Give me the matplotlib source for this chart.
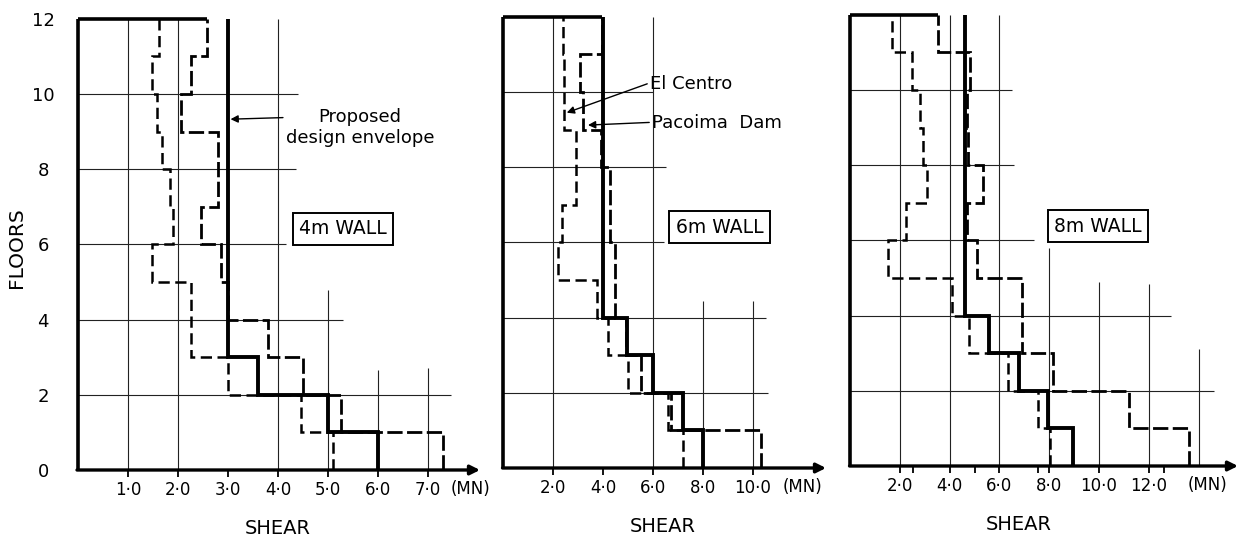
import numpy as np
import matplotlib
matplotlib.use('Agg')
import matplotlib.pyplot as plt

# Storey shears (MN) for storeys 1..12, read bottom to top
floors = np.arange(0, 13)

env_4m = [6.0, 5.0, 3.6, 3.0, 3.0, 3.0, 3.0, 3.0, 3.0, 3.0, 3.0, 3.0]
pacoima_4m = [7.3, 5.25, 4.5, 3.8, 3.0, 2.85, 2.45, 2.8, 2.8, 2.05, 2.25, 2.58]
elcentro_4m = [5.1, 4.45, 3.0, 2.26, 2.26, 1.47, 1.9, 1.84, 1.67, 1.58, 1.47, 1.62]

env_6m = [8.0, 7.2, 6.0, 4.95, 4.0, 4.0, 4.0, 4.0, 4.0, 4.0, 4.0, 4.0]
pacoima_6m = [10.3, 6.7, 5.5, 4.9, 4.48, 4.48, 4.28, 4.28, 3.9, 3.2, 3.08, 3.95]
elcentro_6m = [7.2, 6.6, 5.0, 4.2, 3.75, 2.2, 2.36, 2.9, 2.9, 2.45, 2.45, 2.4]

env_8m = [8.95, 7.95, 6.8, 5.6, 4.6, 4.6, 4.6, 4.6, 4.6, 4.6, 4.6, 4.6]
pacoima_8m = [13.6, 11.2, 8.14, 6.9, 6.9, 5.1, 4.7, 5.35, 4.75, 4.7, 4.8, 3.55]
elcentro_8m = [8.03, 7.56, 6.36, 4.79, 4.08, 1.54, 2.25, 3.08, 2.95, 2.81, 2.48, 1.67]

ticks_4m = [1, 2, 3, 4, 5, 6, 7]
ticklabels_4m = ['1·0', '2·0', '3·0', '4·0', '5·0', '6·0', '7·0']
ticks_6m = [2, 4, 6, 8, 10]
ticklabels_6m = ['2·0', '4·0', '6·0', '8·0', '10·0']
ticks_8m = [2, 4, 6, 8, 10, 12]
ticklabels_8m = ['2·0', '4·0', '6·0', '8·0', '10·0', '12·0']
floor_ticks = [0, 2, 4, 6, 8, 10, 12]

W, H = 1239, 543
PX_FLOOR = 37.6
TOP = 12.2

fig = plt.figure(figsize=(W / 100, H / 100), dpi=100)
plt.rcParams['font.family'] = 'DejaVu Sans'

# layout of the three panels (pixels) and hand drawn grid pieces
panels = [
    dict(left=78, right=480, zero=470, scale=50.0,
         env=env_4m, pac=pacoima_4m, elc=elcentro_4m,
         ticks=ticks_4m, labels=ticklabels_4m, minor=[],
         gv=[(1, 12), (2, 12), (4, 12), (5, 4.8), (6, 2.65), (7, 2.7)],
         gh=[(10, 4.4), (8, 4.35), (6, 4.15), (4, 5.3), (2, 7.45)],
         box='4m WALL', box_xy=(5.3, 6.42), mn_x=7.84, shear_px=278),
    dict(left=503, right=826, zero=468, scale=25.0,
         env=env_6m, pac=pacoima_6m, elc=elcentro_6m,
         ticks=ticks_6m, labels=ticklabels_6m, minor=[],
         gv=[(2, 12), (6, 12), (8, 4.45), (10, 4.45)],
         gh=[(10, 6.0), (8, 6.5), (6, 6.45), (4, 10.5), (2, 10.6)],
         box='6m WALL', box_xy=(8.66, 6.4), mn_x=11.96, shear_px=663),
    dict(left=850, right=1238, zero=466, scale=24.9,
         env=env_8m, pac=pacoima_8m, elc=elcentro_8m,
         ticks=ticks_8m, labels=ticklabels_8m, minor=[2.55, 5.0, 7.55, 12.6],
         gv=[(2, 12), (4, 12), (6, 12), (8, 5.8), (10, 4.9), (12, 4.85), (14, 3.1)],
         gh=[(10, 6.5), (8, 6.6), (6, 7.4), (4, 12.9), (2, 14.6)],
         box='8m WALL', box_xy=(9.96, 6.38), mn_x=14.34, shear_px=1019),
]

axes = []
for i, p in enumerate(panels):
    wpx = p['right'] - p['left']
    hpx = TOP * PX_FLOOR
    ax = fig.add_axes([p['left'] / W, (H - p['zero']) / H, wpx / W, hpx / H])
    xmax = wpx / p['scale']
    ax.set_xlim(0, xmax)
    ax.set_ylim(0, TOP)
    for s in ax.spines.values():
        s.set_visible(False)

    # thin grid
    for gx, gtop in p['gv']:
        ax.vlines(gx, 0, gtop, color='#222222', lw=0.8, zorder=1)
    for gy, gright in p['gh']:
        ax.hlines(gy, 0, gright, color='#222222', lw=0.8, zorder=1)

    # frame: left axis, top line, x axis with arrow
    ax.vlines(0, 0, 12, color='black', lw=2.6, clip_on=False, zorder=4)
    ax.hlines(12, 0, p['pac'][-1], color='black', lw=2.6, clip_on=False, zorder=4)
    ax.annotate('', xy=(xmax, 0), xytext=(-0.02, 0), annotation_clip=False,
                arrowprops=dict(arrowstyle='-|>', lw=2.4, color='black',
                                mutation_scale=14, shrinkA=0, shrinkB=0), zorder=4)

    # shear profiles
    ax.stairs(p['elc'], floors, orientation='horizontal', baseline=None,
              color='black', lw=1.8, linestyle=(0, (4.5, 2.2)), zorder=3, clip_on=False)
    ax.stairs(p['pac'], floors, orientation='horizontal', baseline=None,
              color='black', lw=2.0, linestyle=(0, (5.5, 1.6)), zorder=3, clip_on=False)
    ax.stairs(p['env'], floors, orientation='horizontal', baseline=None,
              color='black', lw=2.8, zorder=4, clip_on=False)

    ax.set_xticks(p['ticks'])
    ax.set_xticklabels(p['labels'], fontsize=12)
    ax.set_xticks(p['minor'], minor=True)
    ax.tick_params(axis='x', which='both', direction='out', length=5, width=1.3, pad=3)
    ax.text(p['mn_x'], -0.041, '(MN)', transform=ax.get_xaxis_transform(),
            ha='center', va='center', fontsize=12)

    if i == 0:
        ax.set_yticks(floor_ticks)
        ax.set_yticklabels([str(f) for f in floor_ticks], fontsize=13)
        ax.tick_params(axis='y', length=0, pad=25)
        for lab in ax.get_yticklabels():
            lab.set_ha('center')
    else:
        ax.set_yticks([])

    ax.set_xlabel('SHEAR', fontsize=14)
    ax.xaxis.set_label_coords((p['shear_px'] - p['left']) / wpx, -0.107)

    ax.text(p['box_xy'][0], p['box_xy'][1], p['box'], ha='center', va='center',
            fontsize=13.5, zorder=5,
            bbox=dict(boxstyle='square,pad=0.35', fc='white', ec='black', lw=1.4))
    axes.append(ax)

fig.text(17 / W, 1 - 248 / H, 'FLOORS', rotation=90, ha='center', va='center', fontsize=14.5)

arrow_kw = dict(arrowstyle='-|>', lw=1.0, color='black', mutation_scale=11, shrinkA=0, shrinkB=0)
axes[0].annotate('Proposed\ndesign envelope', xy=(3.05, 9.33), xytext=(5.64, 9.1),
                 ha='center', va='center', fontsize=13, multialignment='center',
                 arrowprops=dict(arrowstyle='-|>', lw=1.0, color='black', mutation_scale=11,
                                 shrinkA=0, shrinkB=0, relpos=(0.12, 0.78)), zorder=6)
axes[1].annotate('El Centro', xy=(2.55, 9.45), xytext=(5.88, 10.22),
                 ha='left', va='center', fontsize=13,
                 arrowprops=dict(arrowstyle='-|>', lw=1.0, color='black', mutation_scale=11,
                                 shrinkA=0, shrinkB=0, relpos=(0.0, 0.55)), zorder=6)
axes[1].annotate('Pacoima  Dam', xy=(3.4, 9.12), xytext=(5.96, 9.17),
                 ha='left', va='center', fontsize=13,
                 arrowprops=dict(arrowstyle='-|>', lw=1.0, color='black', mutation_scale=11,
                                 shrinkA=0, shrinkB=0, relpos=(0.0, 0.55)), zorder=6)

fig.savefig('out.png', dpi=100)
